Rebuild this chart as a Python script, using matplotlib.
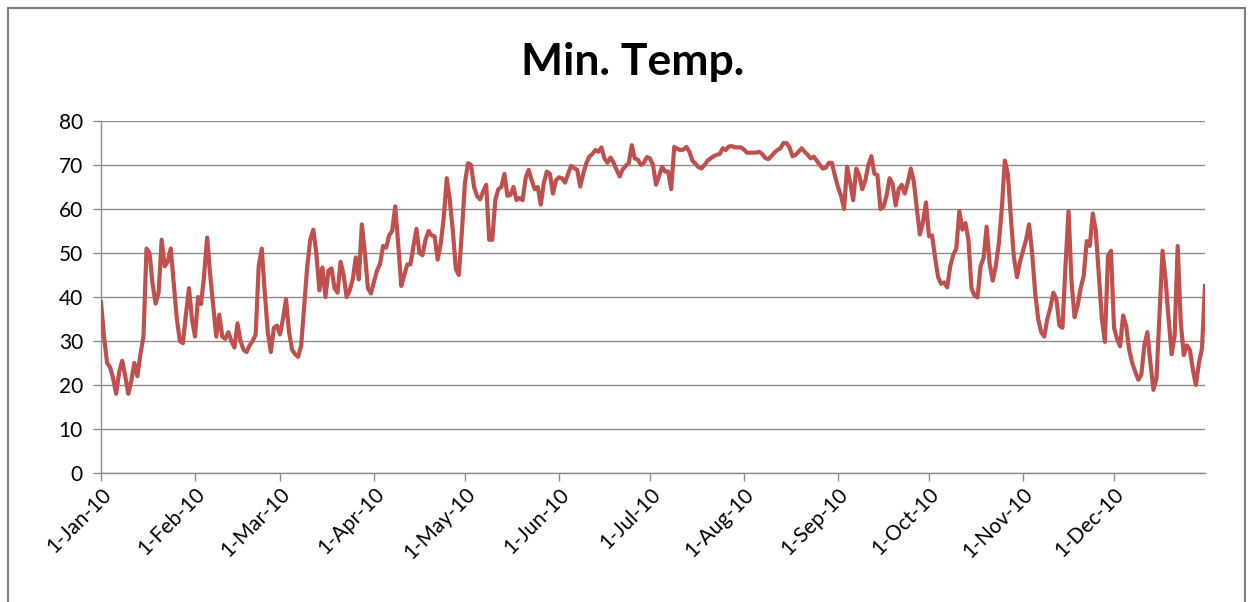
import matplotlib
matplotlib.use("Agg")
import matplotlib.pyplot as plt
import matplotlib.dates as mdates
import pandas as pd
from matplotlib.patches import Rectangle

title = "Min. Temp."
start_date = "2010-01-01"

jan = [38.8, 31, 25, 24, 21.5, 18, 23, 25.5, 22, 18, 21, 25, 22, 27, 31, 51, 50, 43, 38.5, 41,
       53, 47, 48, 51, 43, 35, 30, 29.5, 36, 42, 35]
feb = [31, 40, 38.4, 45, 53.5, 45, 38, 31, 36, 31, 30.5, 32, 30, 28.5, 34, 30, 28, 27.5, 29, 30,
       31.5, 47, 51, 41, 32, 27.5, 33, 33.5]
mar = [31.5, 35, 39.5, 32, 28, 27, 26.4, 29, 38, 47, 53, 55.3, 50, 41.5, 46.7, 40, 46, 46.5, 42, 41,
       48, 45, 40, 41.5, 44, 49, 44, 56.5, 50, 42, 40.8]
apr = [43.5, 46, 47.5, 51.6, 51.2, 54, 55, 60.6, 52, 42.5, 45, 47.4, 47.4, 51.5, 55.5, 50, 49.5, 53, 55, 54,
       53.8, 48.5, 52, 58, 67, 62, 55, 46.3, 45, 55]
may = [66, 70.4, 70, 65, 62.9, 62.2, 64, 65.5, 53, 53, 62, 64.5, 65, 68, 63, 63.2, 65, 62, 62.5, 62,
       67, 68.9, 66.5, 64.5, 65, 61, 65.9, 68.5, 68, 63.5, 66.5]
jun = [67.2, 67, 66, 68, 69.8, 69.3, 68.9, 65.1, 68, 70.4, 71.9, 72.5, 73.4, 73, 74, 71.5, 70.5, 71.7, 70.5, 68.9,
       67.4, 69, 69.8, 70.4, 74.5, 71.5, 71.2, 70, 70.5, 71.8]
jul = [71.5, 70, 65.5, 67.5, 69.6, 68.5, 68.5, 64.5, 74.1, 73.7, 73.4, 73.5, 74.1, 73, 71, 70.3, 69.5, 69.2, 70, 71,
       71.5, 72, 72.3, 72.5, 73.8, 73.4, 74.2, 74.3, 74, 74, 74]
aug = [73.5, 72.8, 72.8, 72.8, 72.8, 73, 72.5, 71.6, 71.3, 72, 72.8, 73.4, 73.8, 75, 75, 74, 72, 72.3, 73, 73.8,
       73, 72.3, 71.5, 71.9, 71, 70, 69.2, 69.4, 70.5, 70.5, 67.5]
sep = [65, 63, 60, 69.6, 66, 62, 69.2, 67.7, 64.5, 66.5, 70, 72, 68, 67.7, 60, 60.5, 63, 67, 65.7, 60.8,
       64.5, 65.5, 63.5, 66, 69.2, 66.2, 60, 54.2, 57, 61.5]
oct_ = [53.8, 54, 49, 44.5, 43, 43.3, 42.2, 47, 49.6, 51, 59.5, 55.3, 56.8, 53, 42, 40.3, 39.9, 47, 48.9, 56,
        47.5, 43.7, 47, 52, 60, 71, 68, 58, 49, 44.5, 48]
nov = [50.5, 53, 56.5, 50, 41, 35, 32, 31, 35, 37.5, 41, 39.5, 33.5, 33, 47, 59.5, 43.3, 35.4, 38, 42,
       44.8, 52.7, 51.6, 59, 55, 45, 35, 29.8, 49.3, 50.5]
dec = [33, 30.5, 28.8, 35.8, 33.5, 28, 25, 23, 21.2, 22.3, 29, 32, 25, 18.9, 21.5, 36, 50.5, 44, 35, 27,
       31.3, 51.6, 34.3, 26.8, 29, 28, 23.5, 20, 25, 28.3, 42.5]

values = jan + feb + mar + apr + may + jun + jul + aug + sep + oct_ + nov + dec
dates = pd.date_range(start_date, periods=len(values), freq="D")

y_ticks = [0, 10, 20, 30, 40, 50, 60, 70, 80]

W, H = 1253, 602
fig = plt.figure(figsize=(W / 100, H / 100), dpi=100)
fig.patch.set_facecolor("white")

left, right, top, bottom = 101, 1205, 121, 473
ax = fig.add_axes([left / W, 1 - bottom / H, (right - left) / W, (bottom - top) / H])

ax.plot(dates, values, color="#C0504D", linewidth=3.0, solid_joinstyle="round", zorder=3)

ax.set_ylim(0, 80)
ax.set_yticks(y_ticks)
ax.set_xlim(dates[0], dates[-1])
ax.xaxis.set_major_locator(mdates.MonthLocator())
ax.xaxis.set_major_formatter(mdates.DateFormatter("%-d-%b-%y"))

ax.grid(axis="y", color="#8C8C8C", linewidth=1.0, zorder=0)
for s in ["top", "right"]:
    ax.spines[s].set_visible(False)
for s in ["left", "bottom"]:
    ax.spines[s].set_color("#8C8C8C")
    ax.spines[s].set_linewidth(1.0)

ax.tick_params(axis="both", colors="#8C8C8C", length=6, width=1.0, direction="out")
ax.tick_params(axis="y", labelcolor="black", labelsize=15, pad=7)
ax.tick_params(axis="x", labelcolor="black", labelsize=15, pad=2)
for lab in ax.get_xticklabels():
    lab.set_fontfamily("Lato")
    lab.set_rotation(45)
    lab.set_ha("right")
    lab.set_rotation_mode("anchor")
for lab in ax.get_yticklabels():
    lab.set_fontfamily("Lato")

fig.text(633 / W, 1 - 62 / H, title, ha="center", va="center",
         fontsize=32, fontweight="bold", fontfamily="Lato")

fig.patches.append(Rectangle((8 / W, -0.01), (1245 - 8) / W, 1 - 8 / H + 0.01,
                             transform=fig.transFigure, fill=False,
                             edgecolor="#7F7F7F", linewidth=1.5))

fig.savefig("out.png", dpi=100)
